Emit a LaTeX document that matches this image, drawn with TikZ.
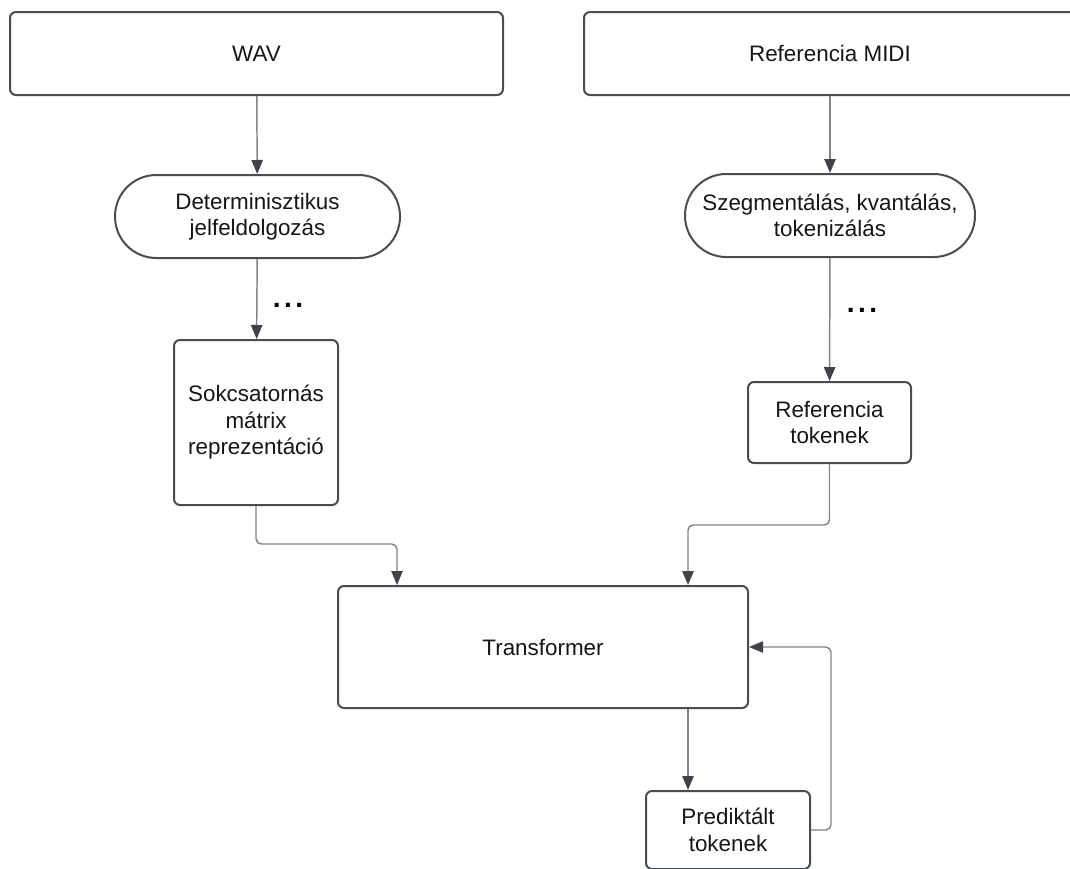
\documentclass[tikz,border=0pt]{standalone}
\usepackage{fontspec}
\setmainfont{Liberation Sans}
\usetikzlibrary{arrows.meta}

\definecolor{boxline}{RGB}{72,76,84}
\definecolor{linkline}{RGB}{128,132,140}
\definecolor{tipdark}{RGB}{62,66,76}
\definecolor{inktext}{RGB}{22,22,22}

\tikzset{
  lbl/.style={font=\fontsize{16.8}{19.9}\selectfont, text=inktext, align=center},
  boxnode/.style={lbl, draw=boxline, line width=1.5pt, fill=white,
    rounded corners=4.5pt, inner sep=0pt},
  pill/.style={boxnode, rounded corners=31pt},
  link/.style={draw=linkline, line width=1.1pt, rounded corners=4pt,
    -{Triangle[length=10.5pt, width=8.5pt, color=tipdark]}},
  plainlink/.style={draw=linkline, line width=1.1pt, rounded corners=4pt},
  gapdots/.style={font=\fontsize{21}{21}\selectfont\bfseries\addfontfeature{LetterSpace=12.5},
    text=black, inner sep=0pt}
}

\begin{document}
\begin{tikzpicture}[x=0.75pt, y=-0.75pt]
  \useasboundingbox (0,0) rectangle (1070,868);
  \clip (0,0) rectangle (1070,868);

  % inputs
  \node[boxnode, minimum width=369.75pt, minimum height=62.25pt] (wav) at (256.5,53.5) {WAV};
  \node[boxnode, minimum width=369pt, minimum height=62.25pt] (midi) at (830,53.5) {Referencia MIDI};

  % preprocessing
  \node[pill, minimum width=213.75pt, minimum height=62.25pt] (det) at (257.5,216.5) {Determinisztikus\\jelfeldolgozás};
  \node[pill, minimum width=217.5pt, minimum height=62.25pt] (szeg) at (830,215.5) {Szegmentálás, kvantálás,\\tokenizálás};

  % representations
  \node[boxnode, minimum width=123pt, minimum height=123.75pt] (sok) at (256,422.5) {Sokcsatornás\\mátrix\\reprezentáció};
  \node[boxnode, minimum width=122.25pt, minimum height=60.75pt] (reftok) at (829.5,422.5) {Referencia\\tokenek};

  % model and output
  \node[boxnode, minimum width=307.5pt, minimum height=91.5pt] (trans) at (543,647) {Transformer};
  \node[boxnode, minimum width=123pt, minimum height=58.5pt] (pred) at (728,830) {Prediktált\\tokenek};

  % elided steps
  \node[gapdots] (dotsL) at (288,305) {...};
  \node[gapdots] (dotsR) at (862,310) {...};

  % bend points
  \coordinate (j1) at (397,544);
  \coordinate (j2) at (688,525);
  \coordinate (j4) at (831,830);

  % connectors
  \draw[link] (wav) -- (det);
  \draw[link] (midi) -- (szeg);
  \draw[link] (det) -- (sok);
  \draw[link] (szeg) -- (reftok);
  \draw[link] (sok.south) |- (j1) -- (j1 |- trans.north);
  \draw[link] (reftok.south) |- (j2) -- (j2 |- trans.north);
  \draw[link] (j2 |- trans.south) -- (j2 |- pred.north);
  \draw[link] (pred.east) -- (j4) -- (j4 |- trans.east) -- (trans.east);
\end{tikzpicture}
\end{document}
